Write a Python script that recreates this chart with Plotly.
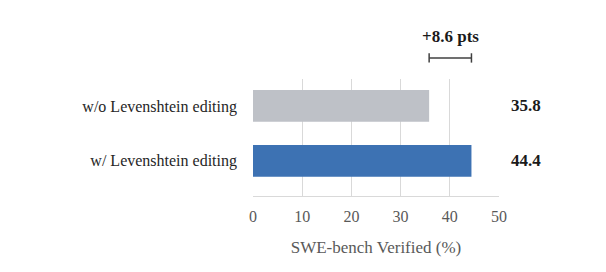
import plotly.graph_objects as go

categories = ["w/o Levenshtein editing", "w/ Levenshtein editing"]
values = [35.8, 44.4]
bar_colors = ["#BEC1C7", "#3D72B3"]
x_ticks = [0, 10, 20, 30, 40, 50]
x_title = "SWE-bench Verified (%)"
delta_label = "+8.6 pts"

SERIF = "Liberation Serif"

fig = go.Figure()
fig.add_trace(go.Bar(
    x=values, y=categories, orientation="h",
    marker=dict(color=bar_colors, line=dict(width=0)),
    width=0.58, hoverinfo="skip",
))

# value labels to the right of the plot
for c, v in zip(categories, values):
    fig.add_annotation(x=1.11, y=c, xref="paper", yref="y", text=f"<b>{v}</b>",
                       showarrow=False, xanchor="center", yanchor="middle",
                       font=dict(family=SERIF, size=17, color="#1a1a1a"))

# bracket showing the improvement
lo, hi = values[0], values[1]
yb = 1.18
fig.add_shape(type="line", xref="x", yref="paper", x0=lo, x1=hi, y0=yb, y1=yb,
              line=dict(color="#404040", width=1.5))
for xv in (lo, hi):
    fig.add_shape(type="line", xref="x", yref="paper", x0=xv, x1=xv,
                  y0=yb - 0.04, y1=yb + 0.04, line=dict(color="#404040", width=1.5))
fig.add_annotation(x=(lo + hi) / 2, y=1.36, xref="x", yref="paper",
                   text=f"<b>{delta_label}</b>", showarrow=False,
                   xanchor="center", yanchor="middle",
                   font=dict(family=SERIF, size=17, color="#1a1a1a"))

fig.update_layout(
    width=606, height=272,
    margin=dict(l=253, r=107, t=79, b=76),
    paper_bgcolor="white", plot_bgcolor="white",
    showlegend=False,
    font=dict(family=SERIF),
    xaxis=dict(
        range=[0, 50], tickvals=x_ticks, showgrid=True, gridcolor="#D9D9D9",
        gridwidth=1, zeroline=False, showline=True, linecolor="#D9D9D9",
        linewidth=1, ticks="", ticklabelstandoff=6,
        tickfont=dict(family=SERIF, size=16, color="#595959"),
        title=dict(text=x_title, standoff=16,
                   font=dict(family=SERIF, size=17, color="#595959")),
        fixedrange=True,
    ),
    yaxis=dict(
        categoryorder="array", categoryarray=categories,
        range=[1.64, -0.49], showgrid=False, zeroline=False, showline=False,
        ticks="", ticklabelstandoff=15,
        tickfont=dict(family=SERIF, size=16, color="#262626"),
        fixedrange=True,
    ),
)

fig.write_html("out.html")
